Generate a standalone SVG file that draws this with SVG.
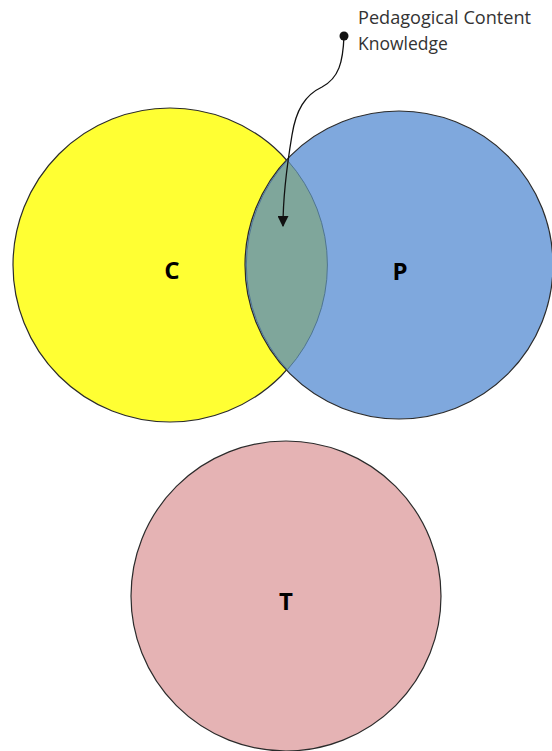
<svg xmlns="http://www.w3.org/2000/svg" width="552" height="751" viewBox="0 0 552 751">
<style>
.c{stroke:#2b2b2b;stroke-width:1.2}
.lbl{font-family:"Open Sans","Liberation Sans",sans-serif;font-weight:bold;font-size:24px;fill:#000;text-anchor:middle}
.note{font-family:"Open Sans","Liberation Sans",sans-serif;font-size:17.5px;fill:#333}
</style>
<defs>
<marker id="ah" viewBox="0 0 10 10" refX="9" refY="5" markerWidth="11" markerHeight="11" markerUnits="userSpaceOnUse" orient="auto">
<path d="M0,0 L10,5 L0,10 z" fill="#111"/>
</marker>
</defs>
<rect width="552" height="751" fill="#fff"/>
<g id="node-C">
<circle class="c" cx="170" cy="265" r="157" fill="#FFFF33"/>
<text class="lbl" x="172" y="279">C</text>
</g>
<g id="node-P">
<circle class="c" cx="399" cy="265" r="154" fill="#7FA8DD"/>
<text class="lbl" x="400" y="280">P</text>
</g>
<g id="node-PCK">
<path d="M287.4,160.3 A154,154 0 0 0 287.4,369.7 A157,157 0 0 0 287.4,160.3 Z" fill="#7FA69B" stroke="#4f7590" stroke-width="1"/>
</g>
<g id="node-T">
<circle class="c" cx="286" cy="596" r="155" fill="#E5B3B4"/>
<text class="lbl" x="286" y="610">T</text>
</g>
<g id="label">
<text class="note" x="358" y="24" textLength="173" lengthAdjust="spacingAndGlyphs">Pedagogical Content</text>
<text class="note" x="358" y="50">Knowledge</text>
</g>
<g id="connectors">
<circle cx="344" cy="36" r="4.5" fill="#111"/>
<path d="M344,36 C343,62 339,78 322,87 C305,95 296,110 292,135 C287,165 283,195 283,226" fill="none" stroke="#111" stroke-width="1.3" marker-end="url(#ah)"/>
</g>
</svg>
